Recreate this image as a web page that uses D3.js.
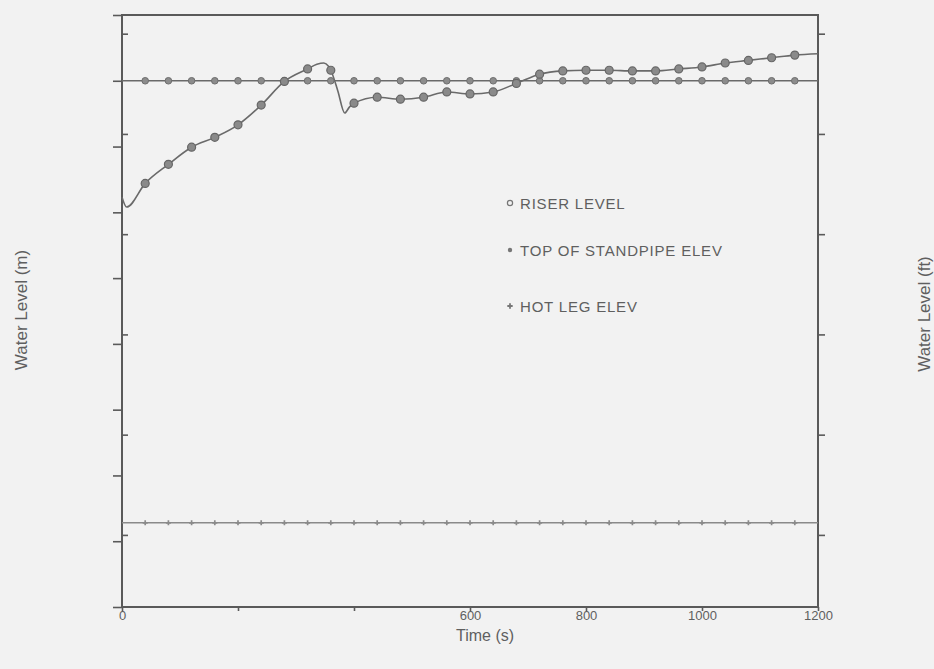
<!DOCTYPE html>
<html>
<head>
<meta charset="utf-8">
<script src="https://cdn.jsdelivr.net/npm/d3@7"></script>
<style>
  html, body { margin: 0; padding: 0; background: #f2f2f2; }
  svg { display: block; }
  text { font-family: "Liberation Sans", Arial, sans-serif; fill: #5f5f5f; }
</style>
</head>
<body>
<svg id="chart" width="934" height="669"></svg>
<script>
// Riser collapsed level over the transient (time in s, level in m)
const riserTime  = [0, 8, 40, 80, 120, 160, 200, 240, 280, 320, 336, 348, 356, 360, 372, 384, 392, 400,
                    440, 480, 520, 560, 600, 640, 680, 720, 760, 800, 840, 880, 920, 960, 1000,
                    1040, 1080, 1120, 1160, 1200];
const riserLevel = [11.23, 11.08, 11.44, 11.73, 11.99, 12.14, 12.33, 12.63, 12.99, 13.18, 13.25, 13.27, 13.22, 13.16, 12.85, 12.51, 12.60, 12.66,
                    12.75, 12.72, 12.75, 12.83, 12.80, 12.83, 12.96, 13.10, 13.15, 13.16, 13.16, 13.15, 13.15, 13.18, 13.21,
                    13.27, 13.31, 13.35, 13.39, 13.41];

// Fixed elevations (m)
const standpipeElev = 13.0;
const hotLegElev = 6.28;

// Symbol positions along the time axis (s)
const markerTimes = [40, 80, 120, 160, 200, 240, 280, 320, 360, 400, 440, 480, 520, 560, 600, 640, 680, 720,
                     760, 800, 840, 880, 920, 960, 1000, 1040, 1080, 1120, 1160];

// Axes
const xTicks = [0, 200, 400, 600, 800, 1000, 1200];
const xTickLabels = ["0", "", "", "600", "800", "1000", "1200"];
const yTicksM = [5, 6, 7, 8, 9, 10, 11, 12, 13, 14];
const yTicksFt = [20, 25, 30, 35, 40, 45];
const legendLabels = ["RISER LEVEL", "TOP OF STANDPIPE ELEV", "HOT LEG ELEV"];

const M_PER_FT = 0.3048;
const svg = d3.select("#chart");
const plotLeft = 122, plotRight = 818, plotTop = 15, plotBottom = 607;

const x = d3.scaleLinear().domain([0, 1200]).range([plotLeft, plotRight]);
const y = d3.scaleLinear().domain([5, 14]).range([plotBottom, plotTop]);
const yFt = d3.scaleLinear().domain([5 / M_PER_FT, 14 / M_PER_FT]).range([plotBottom, plotTop]);

const ink = "#6a6a6a";

// Frame
svg.append("rect")
  .attr("x", plotLeft).attr("y", plotTop)
  .attr("width", plotRight - plotLeft).attr("height", plotBottom - plotTop)
  .attr("fill", "none").attr("stroke", "#5a5a5a").attr("stroke-width", 2);

// Left axis: metres outward, feet inward
const axL = svg.append("g").attr("transform", `translate(${plotLeft},0)`)
  .call(d3.axisLeft(y).tickValues(yTicksM).tickSize(9).tickFormat(""));
const axLft = svg.append("g").attr("transform", `translate(${plotLeft},0)`)
  .call(d3.axisRight(yFt).tickValues(yTicksFt).tickSize(6).tickFormat(""));
// Right axis: feet outward
const axR = svg.append("g").attr("transform", `translate(${plotRight},0)`)
  .call(d3.axisRight(yFt).tickValues(yTicksFt).tickSize(7).tickFormat(""));
// Bottom axis
const axB = svg.append("g").attr("transform", `translate(0,${plotBottom})`)
  .call(d3.axisBottom(x).tickValues(xTicks).tickSize(4).tickPadding(0)
    .tickFormat((d, i) => xTickLabels[i]));

[axL, axLft, axR, axB].forEach(g => {
  g.select(".domain").remove();
  g.selectAll(".tick line").attr("stroke", "#5a5a5a").attr("stroke-width", 1.6);
});
axB.selectAll(".tick text")
  .attr("font-size", 13)
  .style("font-family", '"Liberation Sans", Arial, sans-serif')
  .attr("fill", "#5f5f5f");

// Horizontal elevation lines
svg.append("line")
  .attr("x1", x(0)).attr("x2", x(1200))
  .attr("y1", y(standpipeElev)).attr("y2", y(standpipeElev))
  .attr("stroke", ink).attr("stroke-width", 1.6);
svg.append("line")
  .attr("x1", x(0)).attr("x2", x(1200))
  .attr("y1", y(hotLegElev)).attr("y2", y(hotLegElev))
  .attr("stroke", "#8a8a8a").attr("stroke-width", 1.4);

// Riser level curve
const riser = riserTime.map((t, i) => ({ t, v: riserLevel[i] }));
svg.append("path")
  .datum(riser)
  .attr("fill", "none").attr("stroke", ink).attr("stroke-width", 1.6)
  .attr("d", d3.line().x(d => x(d.t)).y(d => y(d.v)).curve(d3.curveMonotoneX));

// Standpipe symbols
svg.append("g").selectAll("circle").data(markerTimes).join("circle")
  .attr("cx", d => x(d)).attr("cy", y(standpipeElev)).attr("r", 3.3)
  .attr("fill", "#8c8c8c").attr("stroke", "#6e6e6e").attr("stroke-width", 1);

// Hot leg symbols
const plus = d3.symbol().type(d3.symbolCross).size(14);
svg.append("g").selectAll("path").data(markerTimes).join("path")
  .attr("transform", d => `translate(${x(d)},${y(hotLegElev)})`)
  .attr("d", plus).attr("fill", "#8a8a8a");

// Riser symbols
const riserAt = new Map(riser.map(d => [d.t, d.v]));
svg.append("g").selectAll("circle").data(markerTimes).join("circle")
  .attr("cx", d => x(d)).attr("cy", d => y(riserAt.get(d))).attr("r", 4)
  .attr("fill", "#8a8a8a").attr("stroke", "#666").attr("stroke-width", 1.2);

// Legend
const lg = svg.append("g");
const legY = [203, 250, 306];
lg.append("circle").attr("cx", 510).attr("cy", legY[0]).attr("r", 2.6)
  .attr("fill", "none").attr("stroke", "#777").attr("stroke-width", 1.2);
lg.append("circle").attr("cx", 510).attr("cy", legY[1]).attr("r", 2.2).attr("fill", "#777");
lg.append("path").attr("transform", `translate(510,${legY[2]})`)
  .attr("d", d3.symbol().type(d3.symbolCross).size(16)).attr("fill", "#777");
lg.selectAll("text").data(legendLabels).join("text")
  .attr("x", 520).attr("y", (d, i) => legY[i] + 6)
  .attr("font-size", 15)
  .attr("letter-spacing", 0.8)
  .text(d => d);

// Axis titles
svg.append("text").attr("x", 485).attr("y", 641).attr("text-anchor", "middle")
  .attr("font-size", 16).text("Time (s)");
svg.append("text").attr("transform", "translate(27,310) rotate(-90)")
  .attr("text-anchor", "middle").attr("font-size", 17).text("Water Level (m)");
svg.append("text").attr("transform", "translate(930,314) rotate(-90)")
  .attr("text-anchor", "middle").attr("font-size", 17).text("Water Level (ft)");
</script>
</body>
</html>
